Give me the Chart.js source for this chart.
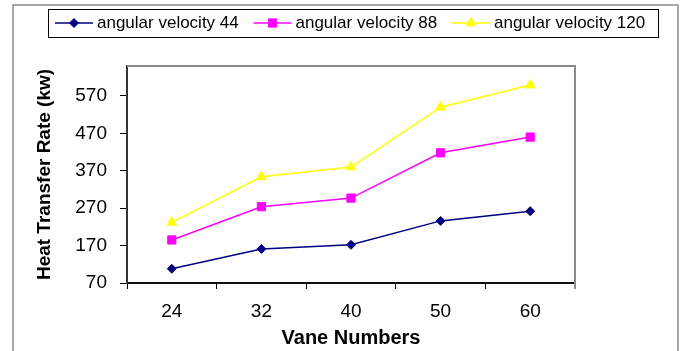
<!DOCTYPE html>
<html>
<head>
<meta charset="utf-8">
<script src="https://cdn.jsdelivr.net/npm/chart.js@4.4.0/dist/chart.umd.min.js"></script>
<style>
  html, body { margin: 0; padding: 0; background: #fff; }
  #wrap { position: relative; width: 681px; height: 351px; }
</style>
</head>
<body>
<div id="wrap"><canvas id="heatChart"></canvas></div>
<script>
// vane numbers (x categories)
const vaneNumbers = ['24', '32', '40', '50', '60'];
// heat transfer rate (kw) for each angular velocity
const omega44 = [108, 161, 172, 236, 262];
const omega88 = [185, 274, 297, 418, 460];
const omega120 = [232, 354, 380, 540, 599];
// y axis ticks
const yTicks = [70, 170, 270, 370, 470, 570];
const yMin = 70;
const yMax = 650;
const seriesLabels = ['angular velocity 44', 'angular velocity 88', 'angular velocity 120'];

const FONT = "'Liberation Sans', Arial, sans-serif";

// outer frame, plot box top/right edges, and the boxed legend
const framePlugin = {
    id: 'frameAndLegend',
    afterDraw(chart) {
        const ctx = chart.ctx;
        const a = chart.chartArea;
        ctx.save();

        // outer frame
        ctx.strokeStyle = '#8c8c8c';
        ctx.lineWidth = 1.5;
        ctx.beginPath();
        ctx.moveTo(13, 360);
        ctx.lineTo(13, 5);
        ctx.lineTo(678, 5);
        ctx.lineTo(678, 360);
        ctx.stroke();

        // plot area top / right
        ctx.strokeStyle = '#8a8a8a';
        ctx.lineWidth = 2;
        ctx.beginPath();
        ctx.moveTo(a.left, a.top);
        ctx.lineTo(a.right, a.top);
        ctx.lineTo(a.right, a.bottom + 6);
        ctx.stroke();

        // legend box
        ctx.strokeStyle = '#000';
        ctx.lineWidth = 1;
        ctx.strokeRect(48.5, 9.5, 610, 28);

        chart.data.datasets.forEach(function(ds, i) {
            const x0 = 55 + i * 198.5;
            const y = 23;
            ctx.strokeStyle = ds.borderColor;
            ctx.lineWidth = 1.5;
            ctx.beginPath();
            ctx.moveTo(x0, y);
            ctx.lineTo(x0 + 38, y);
            ctx.stroke();

            ctx.fillStyle = ds.pointBackgroundColor;
            ctx.strokeStyle = ds.pointBorderColor;
            ctx.lineWidth = 1;
            Chart.helpers.drawPoint(ctx, {
                pointStyle: ds.pointStyle,
                radius: ds.pointRadius,
                rotation: 0,
                borderWidth: 1
            }, x0 + 19, y);

            ctx.fillStyle = '#000';
            ctx.font = '17px ' + FONT;
            ctx.textAlign = 'left';
            ctx.textBaseline = 'middle';
            ctx.fillText(ds.label, x0 + 42, y + 0.5);
        });
        ctx.restore();
    }
};

function makeSeries(label, data, color, style, radius) {
    return {
        label: label,
        data: data,
        borderColor: color,
        backgroundColor: color,
        pointBackgroundColor: color,
        pointBorderColor: color,
        pointStyle: style,
        pointRadius: radius,
        pointBorderWidth: 1,
        borderWidth: 1.5,
        tension: 0,
        fill: false
    };
}

new Chart(document.getElementById('heatChart'), {
    type: 'line',
    data: {
        labels: vaneNumbers,
        datasets: [
            makeSeries(seriesLabels[0], omega44, '#000080', 'rectRot', 4.5),
            makeSeries(seriesLabels[1], omega88, '#ff00ff', 'rect', 5.8),
            makeSeries(seriesLabels[2], omega120, '#ffff00', 'triangle', 5.6)
        ]
    },
    options: {
        responsive: true,
        maintainAspectRatio: false,
        animation: false,
        layout: { padding: { top: 66, right: 106, left: 0, bottom: 0 } },
        plugins: {
            legend: { display: false },
            tooltip: { enabled: false }
        },
        scales: {
            x: {
                offset: true,
                grid: {
                    display: true,
                    offset: true,
                    drawOnChartArea: false,
                    drawTicks: true,
                    tickLength: 6,
                    color: '#000',
                    lineWidth: 1
                },
                border: { display: true, color: '#111', width: 2 },
                ticks: {
                    color: '#000',
                    font: { family: FONT, size: 19 },
                    padding: 11,
                    maxRotation: 0
                },
                title: {
                    display: true,
                    text: 'Vane Numbers',
                    color: '#000',
                    font: { family: FONT, size: 20, weight: 'bold' },
                    padding: { top: 0, bottom: 1 }
                },
                afterFit: function(scale) { scale.height = 68; }
            },
            y: {
                min: yMin,
                max: yMax,
                afterBuildTicks: function(scale) {
                    scale.ticks = yTicks.map(function(v) { return { value: v }; });
                },
                grid: {
                    display: true,
                    drawOnChartArea: false,
                    drawTicks: true,
                    tickLength: 7,
                    color: '#000',
                    lineWidth: 1
                },
                border: { display: true, color: '#333', width: 2 },
                ticks: {
                    color: '#000',
                    font: { family: FONT, size: 19 },
                    padding: 13
                },
                title: {
                    display: true,
                    text: 'Heat Transfer Rate (kw)',
                    color: '#000',
                    font: { family: FONT, size: 19, weight: 'bold' },
                    padding: { top: 33, bottom: 0 }
                },
                afterFit: function(scale) { scale.width = 127; }
            }
        }
    },
    plugins: [framePlugin]
});
</script>
</body>
</html>
